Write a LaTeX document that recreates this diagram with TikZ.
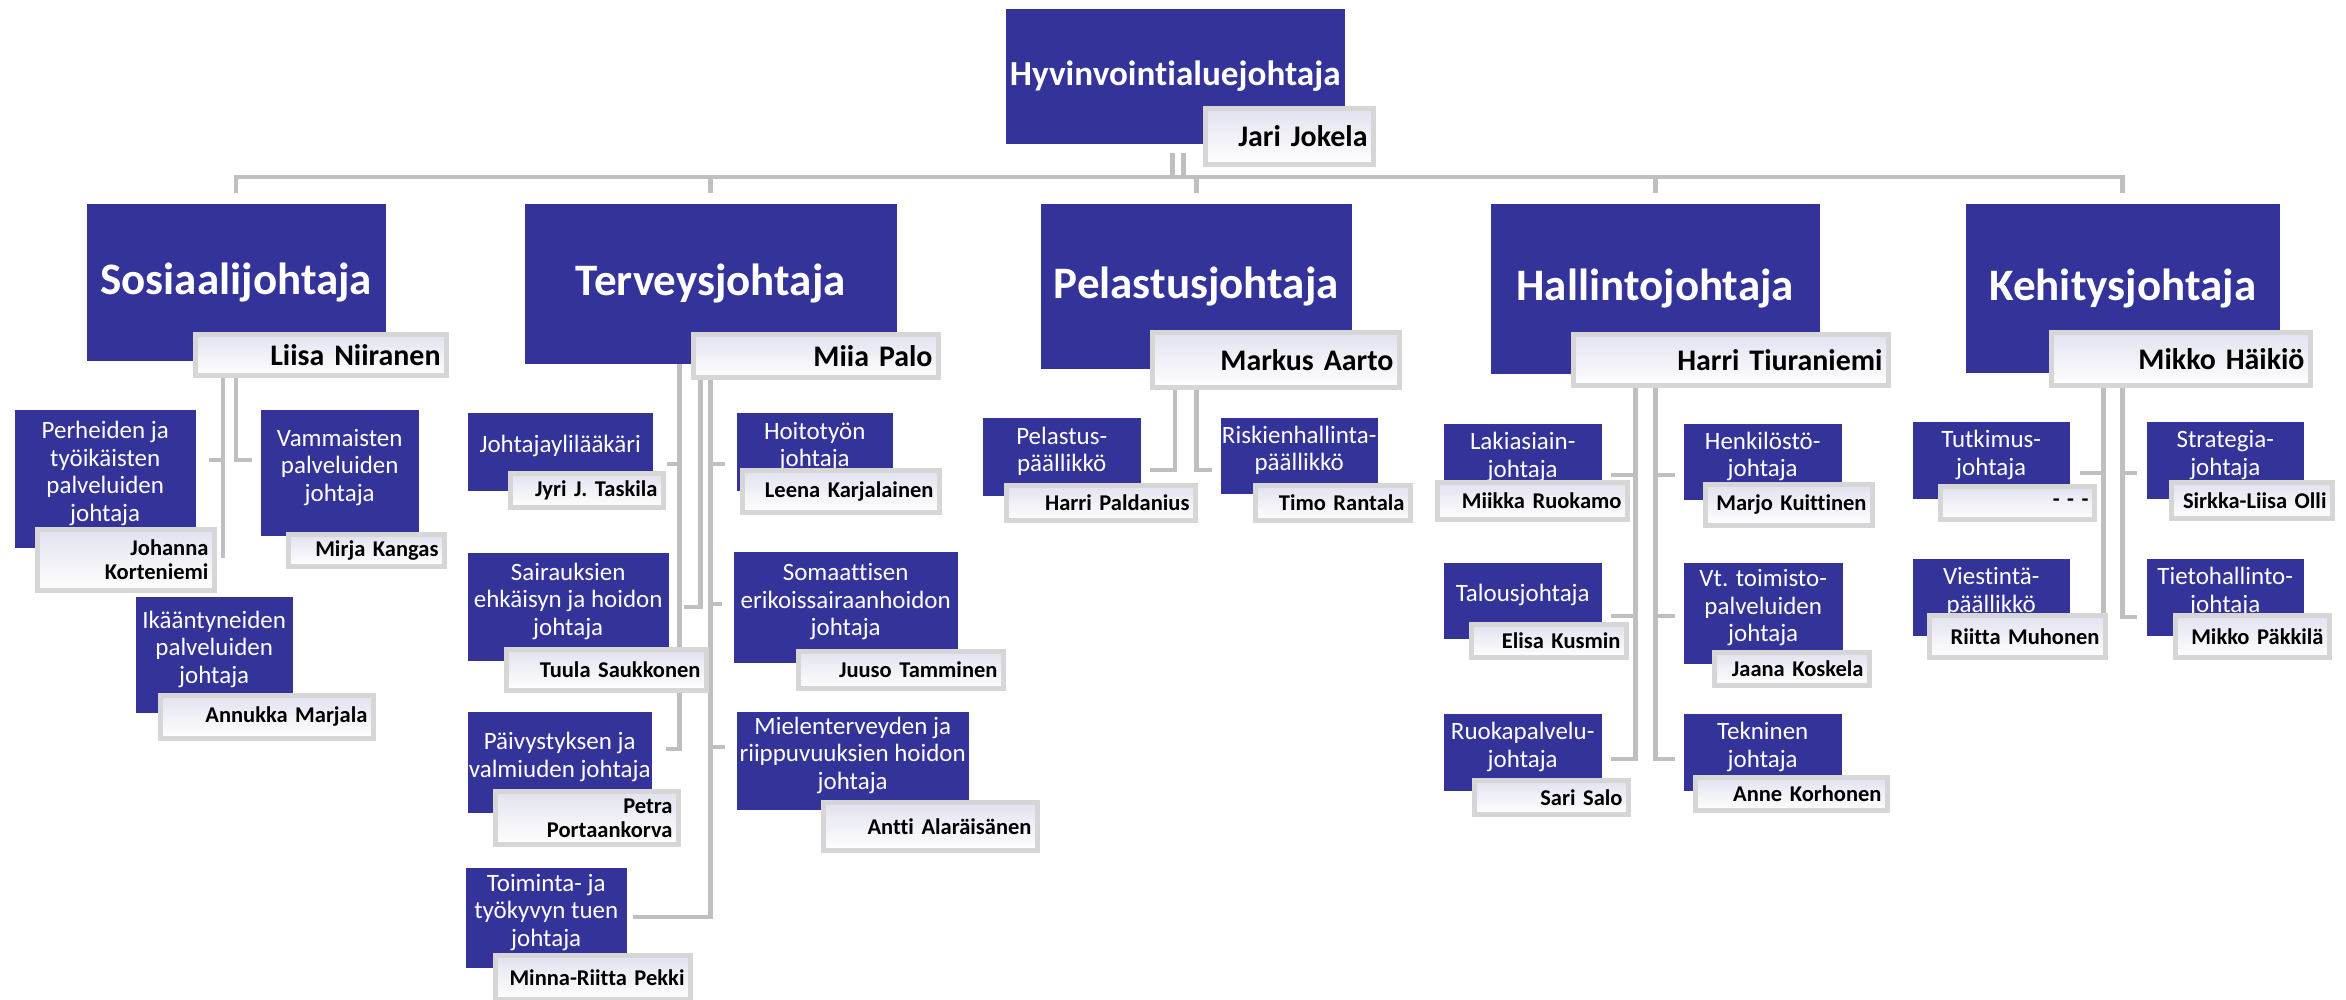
\documentclass[tikz,border=0pt]{standalone}
\usepackage{fontspec}
\setmainfont{Carlito}[Ligatures=NoCommon]
\usetikzlibrary{calc,backgrounds}

\definecolor{orgblue}{RGB}{51,51,153}
\definecolor{conncol}{RGB}{191,191,191}
\definecolor{namebord}{RGB}{214,214,214}
\definecolor{nametop}{RGB}{226,226,240}

\begin{document}
\begin{tikzpicture}[x=0.01cm, y=-0.01cm,
  box/.style={fill=orgblue, text=white, anchor=north west, align=center, inner sep=0pt},
  sz/.style 2 args={minimum width=#1*0.01cm, minimum height=#2*0.01cm},
  namebox/.style={draw=namebord, line width=1.4pt, top color=nametop, bottom color=white, text=black, anchor=north west, align=right, inner xsep=0.06cm, inner ysep=0pt},
  nsz/.code 2 args={\pgfmathsetlengthmacro\nmw{#1*0.01cm-0.12cm}\tikzset{minimum width=#1*0.01cm, text width=\nmw, minimum height=#2*0.01cm}},
  lvl0/.style={box, font=\fontsize{10}{12}\selectfont\bfseries},
  lvl1/.style={box, font=\fontsize{12.8}{15}\selectfont\bfseries},
  lvl2/.style={box, text depth=0.15cm, font=\fontsize{7.1}{7.8}\selectfont},
  nm1/.style={namebox, font=\fontsize{8.5}{10}\selectfont\bfseries},
  nm2/.style={namebox, font=\fontsize{6.4}{6.85}\selectfont\bfseries},
  conn/.style={draw=conncol, line width=1.3pt}]

\useasboundingbox (0,0) rectangle (2346,999);

\node (hy) [lvl0, sz={339}{135}] at (1005,8) {Hyvinvointialuejohtaja};
\node (jari) [nm1, nsz={168}{56}] at (1203,106) {Jari Jokela};

\node (sos) [lvl1, sz={299}{157}] at (86,203) {Sosiaalijohtaja};
\node (liisa) [nm1, nsz={251}{41}] at (193,332) {Liisa Niiranen};
\node (ter) [lvl1, sz={372}{160}] at (524,203) {Terveysjohtaja};
\node (miia) [nm1, nsz={245}{43}] at (691,332) {Miia Palo};
\node (pel) [lvl1, sz={311}{165}] at (1040,203) {Pelastusjohtaja};
\node (markus) [nm1, nsz={247}{55}] at (1150,330) {Markus Aarto};
\node (hal) [lvl1, sz={329}{170}] at (1490,203) {Hallintojohtaja};
\node (harri) [nm1, nsz={315}{51}] at (1571,332) {Harri Tiuraniemi};
\node (keh) [lvl1, sz={314}{169}] at (1965,203) {Kehitysjohtaja};
\node (mikko) [nm1, nsz={259}{53}] at (2049,330) {Mikko Häikiö};

\node (perh) [lvl2, sz={181}{138}] at (14,409) {Perheiden ja\\työikäisten\\palveluiden\\johtaja};
\node (johanna) [nm2, nsz={177}{61}] at (35,527) {Johanna\\Korteniemi};
\node (vamm) [lvl2, sz={158}{126}] at (260,409) {Vammaisten\\palveluiden\\johtaja};
\node (mirja) [nm2, nsz={156}{32}] at (286,532) {Mirja Kangas};
\node (ikaa) [lvl2, sz={157}{116}] at (135,596) {Ikääntyneiden\\palveluiden\\johtaja};
\node (annukka) [nm2, nsz={213}{43}] at (158,693) {Annukka Marjala};

\node (ylil) [lvl2, sz={185}{78}] at (467,412) {Johtajaylilääkäri};
\node (jyri) [nm2, nsz={153}{34}] at (508,471) {Jyri J. Taskila};
\node (sair) [lvl2, sz={201}{108}] at (467,552) {Sairauksien\\ehkäisyn ja hoidon\\johtaja};
\node (tuula) [nm2, nsz={200}{41}] at (504,647) {Tuula Saukkonen};
\node (paiv) [lvl2, sz={184}{101}] at (467,711) {Päivystyksen ja\\valmiuden johtaja};
\node (petra) [nm2, nsz={183}{53}] at (493,789) {Petra\\Portaankorva};
\node (toim) [lvl2, sz={161}{100}] at (465,867) {Toiminta- ja\\työkyvyn tuen\\johtaja};
\node (minna) [nm2, nsz={195}{44}] at (493,953) {Minna-Riitta Pekki};
\node (hoit) [lvl2, sz={156}{78}] at (736,412) {Hoitotyön\\johtaja};
\node (leena) [nm2, nsz={197}{42}] at (740,468) {Leena Karjalainen};
\node (soma) [lvl2, sz={224}{111}] at (733,551) {Somaattisen\\erikoissairaanhoidon\\johtaja};
\node (juuso) [nm2, nsz={205}{37}] at (796,649) {Juuso Tamminen};
\node (miel) [lvl2, sz={232}{98}] at (736,711) {Mielenterveyden ja\\riippuvuuksien hoidon\\johtaja};
\node (antti) [nm2, nsz={214}{48}] at (821,800) {Antti Alaräisänen};

\node (pp) [lvl2, sz={158}{78}] at (982,417) {Pelastus-\\päällikkö};
\node (paldanius) [nm2, nsz={189}{35}] at (1004,483) {Harri Paldanius};
\node (risk) [lvl2, sz={157}{76}] at (1220,417) {Riskienhallinta-\\päällikkö};
\node (timo) [nm2, nsz={155}{35}] at (1253,483) {Timo Rantala};

\node (laki) [lvl2, sz={158}{77}] at (1443,423) {Lakiasiain-\\johtaja};
\node (miikka) [nm2, nsz={190}{37}] at (1435,480) {Miikka Ruokamo};
\node (talo) [lvl2, sz={158}{76}] at (1443,562) {Talousjohtaja};
\node (elisa) [nm2, nsz={155}{33}] at (1469,622) {Elisa Kusmin};
\node (ruok) [lvl2, sz={158}{77}] at (1443,713) {Ruokapalvelu-\\johtaja};
\node (sari) [nm2, nsz={154}{34}] at (1472,778) {Sari Salo};
\node (henk) [lvl2, sz={158}{76}] at (1683,423) {Henkilöstö-\\johtaja};
\node (marjo) [nm2, nsz={167}{41}] at (1703,482) {Marjo Kuittinen};
\node (vt) [lvl2, sz={159}{101}] at (1683,562) {Vt. toimisto-\\palveluiden\\johtaja};
\node (jaana) [nm2, nsz={155}{33}] at (1712,650) {Jaana Koskela};
\node (tekn) [lvl2, sz={158}{77}] at (1683,713) {Tekninen\\johtaja};
\node (anne) [nm2, nsz={192}{33}] at (1693,775) {Anne Korhonen};

\node (tutk) [lvl2, sz={157}{77}] at (1912,421) {Tutkimus-\\johtaja};
\node (avoin) [nm2, nsz={154}{33}] at (1938,484) {- - -};
\node (viest) [lvl2, sz={157}{77}] at (1912,558) {Viestintä-\\päällikkö};
\node (riitta) [nm2, nsz={176}{42}] at (1927,613) {Riitta Muhonen};
\node (stra) [lvl2, sz={157}{77}] at (2146,421) {Strategia-\\johtaja};
\node (sirkka) [nm2, nsz={161}{36}] at (2169,480) {Sirkka-Liisa\nobreakspace Olli};
\node (tieto) [lvl2, sz={157}{77}] at (2146,558) {Tietohallinto-\\johtaja};
\node (mikkop) [nm2, nsz={154}{42}] at (2173,613) {Mikko Päkkilä};

\begin{scope}[on background layer]
\coordinate (bus) at (0,177);
\coordinate (hyA) at ([xshift=-0.03cm]hy.south);
\coordinate (hyB) at ([xshift=0.08cm]hy.south);
\draw[conn, shorten <=0.09cm] (hyA) -- (hyA |- bus);
\draw[conn, shorten <=0.09cm] (hyB) -- (hyB |- bus);
\draw[conn, shorten <=0.1cm, shorten >=0.1cm] (sos.north) -- (sos.north |- bus) -- (keh.north |- bus) -- (keh.north);
\foreach \n in {ter,pel,hal} \draw[conn, shorten <=0.1cm] (\n.north) -- (\n.north |- bus);

\coordinate (sosL) at ([xshift=-0.13cm]sos.south);
\draw[conn, shorten >=0.38cm] (sosL) -- (sosL |- ikaa.north);
\draw[conn] (sosL) |- ($(perh.north east)+(13,51)$);
\draw[conn] (sos.south) |- ($(vamm.north west)+(-8,51)$);

\coordinate (terA) at ([xshift=-0.31cm]ter.south);
\coordinate (terB) at ([xshift=-0.10cm]ter.south);
\draw[conn] (terA) |- ($(ylil.north east)+(14,52)$);
\draw[conn] (terA) |- ($(paiv.north east)+(14,38)$);
\draw[conn] (terB) |- ($(sair.north east)+(15,55)$);
\draw[conn] (ter.south) |- ($(toim.north east)+(6,50)$);
\foreach \nd/\dy in {hoit/52, soma/53, miel/36} \draw[conn] (ter.south) |- ($(\nd.north west)+(-11,\dy)$);

\coordinate (pelL) at ([xshift=-0.21cm]pel.south);
\draw[conn] (pelL) |- ($(pp.north east)+(9,53)$);
\draw[conn] (pel.south) |- ($(risk.north west)+(-8,53)$);

\coordinate (halL) at ([xshift=-0.20cm]hal.south);
\foreach \nd/\dy in {laki/52, talo/54, ruok/46} \draw[conn] (halL) |- ($(\nd.north east)+(9,\dy)$);
\foreach \nd/\dy in {henk/52, vt/54, tekn/46} \draw[conn] (hal.south) |- ($(\nd.north west)+(-8,\dy)$);

\coordinate (kehL) at ([xshift=-0.19cm]keh.south);
\foreach \nd/\dy in {tutk/52, viest/59} \draw[conn] (kehL) |- ($(\nd.north east)+(10,\dy)$);
\foreach \nd/\dy in {stra/52, tieto/59} \draw[conn] (keh.south) |- ($(\nd.north west)+(-9,\dy)$);
\end{scope}

\end{tikzpicture}
\end{document}
